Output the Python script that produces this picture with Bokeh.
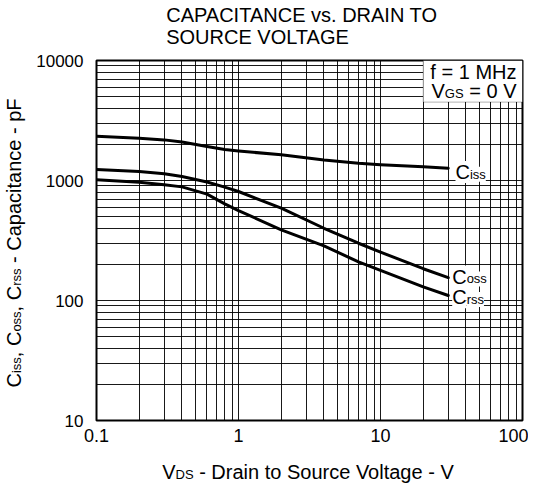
import math
from bokeh.plotting import figure
from bokeh.layouts import row, column
from bokeh.models import Range1d, FixedTicker, CustomJSTickFormatter, Label, BoxAnnotation
from bokeh.embed import file_html
from bokeh.resources import INLINE

# ---- data ----
vds = [0.1, 0.2, 0.3, 0.4, 0.6, 0.8, 1, 2, 4, 7, 10, 20, 30]
ciss = [2340, 2250, 2180, 2090, 1920, 1810, 1760, 1640, 1480, 1390, 1355, 1305, 1265]
coss = [1235, 1189, 1137, 1080, 972, 880, 810, 588, 400, 300, 253, 184, 155]
crss = [1013, 968, 921, 885, 770, 639, 562, 388, 285, 210, 178, 130, 110]

x_ticks = [0.1, 1, 10, 100]
y_ticks = [10, 100, 1000, 10000]

title_lines = ["CAPACITANCE vs. DRAIN TO", "SOURCE VOLTAGE"]

FONT = "Liberation Sans"
S, s = 20, 13   # main / subscript font sizes (px)
K = 0.33        # empirical baseline correction (fraction of font size)

# grid values (1..9 x decades)
x_grid = [m * 10.0 ** e for e in range(-1, 2) for m in range(1, 10)] + [100]
y_grid = [m * 10.0 ** e for e in range(1, 4) for m in range(1, 10)] + [10000]

# page layout (px)
TOTAL_W = 528
FRAME_L, FRAME_R, FRAME_T, FRAME_B = 96, 522, 60, 420
TITLE_H = 50
MAIN_H = 402
XLAB_H = 36
TOTAL_H = TITLE_H + MAIN_H + XLAB_H
LEFT_W = 30
MAIN_W = TOTAL_W - LEFT_W
MB_TOP = FRAME_T - TITLE_H
MB_BOT = TITLE_H + MAIN_H - FRAME_B


def text_fig(w, h, xr, yr, **borders):
    f = figure(width=w, height=h, x_range=Range1d(*xr), y_range=Range1d(*yr),
               x_axis_location=None, y_axis_location=None, title_location=None,
               output_backend="svg", toolbar_location=None, tools="", **borders)
    f.grid.visible = False
    f.outline_line_color = None
    f.background_fill_color = "white"
    f.border_fill_color = "white"
    return f


def add_text(f, x, y, text, size=S, align="left", angle=0.0, units="data", bg=None):
    kw = {}
    if bg:
        kw["background_fill_color"] = bg
    f.add_layout(Label(x=x, y=y, x_units=units, y_units=units, text=text,
                       text_font=FONT, text_font_size=f"{size}px", text_color="black",
                       text_align=align, text_baseline="alphabetic", angle=angle, **kw))


# ---------------- main plot ----------------
p = figure(width=MAIN_W, height=MAIN_H, x_axis_type="log", y_axis_type="log",
           x_range=Range1d(0.1, 100), y_range=Range1d(10, 10000),
           output_backend="svg", toolbar_location=None, tools="", title_location=None,
           min_border_left=FRAME_L - LEFT_W, min_border_right=TOTAL_W - FRAME_R,
           min_border_top=MB_TOP, min_border_bottom=MB_BOT)
p.background_fill_color = "white"
p.border_fill_color = "white"
p.outline_line_color = "black"
p.outline_line_width = 2

for ax in (p.xaxis[0], p.yaxis[0]):
    ax.axis_line_color = None
    ax.major_tick_line_color = None
    ax.minor_tick_line_color = None
    ax.major_tick_out = 0
    ax.major_tick_in = 0
    ax.major_label_text_font = FONT
    ax.major_label_text_color = "black"
    ax.formatter = CustomJSTickFormatter(code="return tick.toString();")
p.xaxis[0].ticker = FixedTicker(ticks=x_ticks)
p.yaxis[0].ticker = FixedTicker(ticks=y_ticks)
p.xaxis[0].major_label_text_font_size = "18px"
p.yaxis[0].major_label_text_font_size = "17px"
p.xaxis[0].major_label_standoff = 8
p.yaxis[0].major_label_standoff = 13

p.xgrid[0].ticker = FixedTicker(ticks=x_grid)
p.ygrid[0].ticker = FixedTicker(ticks=y_grid)
for g in (p.xgrid[0], p.ygrid[0]):
    g.grid_line_color = "black"
    g.grid_line_width = 1
    g.grid_line_alpha = 0.9

for ys in (ciss, coss, crss):
    p.line(vds, ys, line_color="black", line_width=3, line_join="round", line_cap="round")

# conditions box (white, hides grid)
p.add_layout(BoxAnnotation(left=20, right=100, bottom=4500, top=10000,
                           fill_color="white", fill_alpha=1.0,
                           line_color="black", line_width=1, level="annotation"))

# page coords -> frame screen coords (with baseline correction)
def sx(px):
    return px - FRAME_L
def sy(py, size):
    return FRAME_B - (py - K * size)

# curve labels
for base, sub, cx, by in [("C", "iss", 455, 178), ("C", "oss", 451.7, 282.7), ("C", "rss", 451.7, 303.3)]:
    add_text(p, sx(cx), sy(by, S), base, S, units="screen", bg="white")
    add_text(p, sx(cx + 0.722 * S), sy(by, s), sub, s, units="screen", bg="white")

# conditions
add_text(p, sx(516), sy(77.7, S), "f = 1 MHz", S, align="right", units="screen")
add_text(p, sx(516), sy(97.3, S), "= 0 V", S, align="right", units="screen")
add_text(p, sx(463.1), sy(97.3, s), "GS", s, align="right", units="screen")
add_text(p, sx(444.3), sy(97.3, S), "V", S, align="right", units="screen")

# ---------------- title (data = page coords) ----------------
tf = text_fig(TOTAL_W, TITLE_H, (FRAME_L, FRAME_R), (TITLE_H, 0),
              min_border_left=FRAME_L, min_border_right=TOTAL_W - FRAME_R,
              min_border_top=0, min_border_bottom=0)
add_text(tf, 165.7, 20.7 - K * S, title_lines[0])
add_text(tf, 165.7, 42.7 - K * S, title_lines[1])

# ---------------- x label (data = page coords) ----------------
xf = text_fig(TOTAL_W, XLAB_H, (FRAME_L, FRAME_R), (TOTAL_H, TOTAL_H - XLAB_H),
              min_border_left=FRAME_L, min_border_right=TOTAL_W - FRAME_R,
              min_border_top=0, min_border_bottom=0)
x0 = 161.7
yb = 478
add_text(xf, x0, yb - K * S, "V", S)
add_text(xf, x0 + 0.667 * S, yb - K * s, "DS", s)
add_text(xf, x0 + 0.667 * S + 1.389 * s + 0.278 * S, yb - K * S, "- Drain to Source Voltage - V", S)

# ---------------- y label (data = page coords) ----------------
yf = text_fig(LEFT_W, MAIN_H, (0, LEFT_W), (FRAME_B, FRAME_T),
              min_border_left=0, min_border_right=0,
              min_border_top=MB_TOP, min_border_bottom=MB_BOT)
bx = 20
y0 = 387
off = 0.0
pieces = [("C", S, 0.722), ("iss", s, 1.222), (", C", S, 1.278), ("oss", s, 1.556),
          (", C", S, 1.278), ("rss", s, 1.333)]
for t, fs, w in pieces:
    add_text(yf, bx - K * fs, y0 - off, t, fs, angle=math.pi / 2)
    off += w * fs
off += 0.278 * S
add_text(yf, bx - K * S, y0 - off, "- Capacitance - pF", S, angle=math.pi / 2)

layout = column(tf, row(yf, p, spacing=0), xf, spacing=0)

open("out.html", "w").write(file_html(layout, INLINE))
